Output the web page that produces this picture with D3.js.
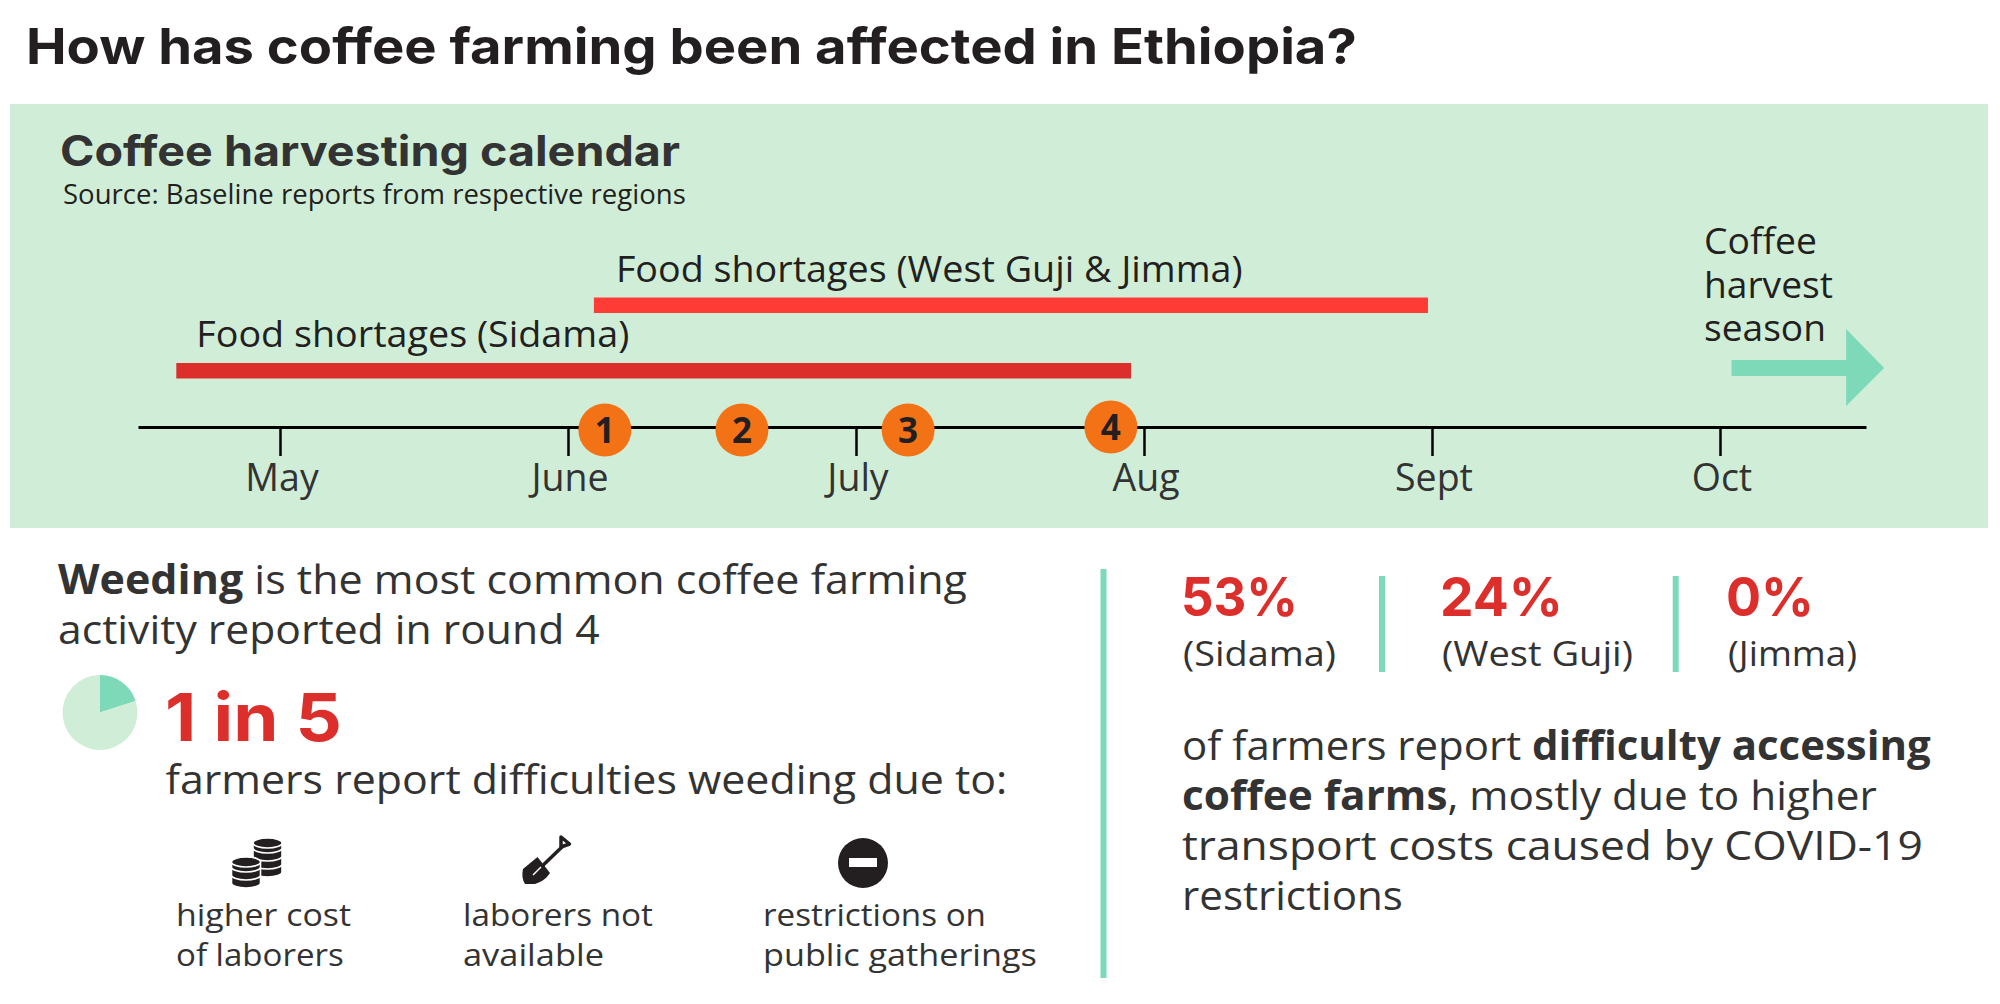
<!DOCTYPE html>
<html>
<head>
<meta charset="utf-8">
<script src="https://cdn.jsdelivr.net/npm/d3@7"></script>
<style>
  body { margin: 0; background: #fff; }
  svg { display: block; }
  text { font-family: "Open Sans", sans-serif; }
  .head { font-family: Inter, sans-serif; font-weight: 700; }
</style>
</head>
<body>
<div id="chart"></div>
<script>
// ---- data ----
var monthNames = ["May", "June", "July", "Aug", "Sept", "Oct"];
var monthValues = [0, 1, 2, 3, 4, 5];                 // month index, 0 = start of May
var axisDomain = [-0.493, 5.507];
var shortageNames = ["Food shortages (West Guji & Jimma)", "Food shortages (Sidama)"];
var shortageStart = [1.09, -0.36];
var shortageEnd = [3.986, 2.955];
var roundLabels = ["1", "2", "3", "4"];
var roundDates = [1.128, 1.604, 2.181, 2.885];
var harvestLabel = ["Coffee", "harvest", "season"];
var harvestStart = 5.04, harvestEnd = 5.57;
var pieValues = [1, 4];                               // 1 in 5
var regions = ["(Sidama)", "(West Guji)", "(Jimma)"];
var accessPercent = [53, 24, 0];
var reasons = [["higher cost", "of laborers"], ["laborers not", "available"], ["restrictions on", "public gatherings"]];

// ---- colours ----
var green = "#d0eed7", teal = "#7dd9b8", red = "#dc2f2c", brightRed = "#ff3b36",
    orange = "#f47216", ink = "#231f20", grey = "#333333";

var svg = d3.select("#chart").append("svg")
  .attr("width", 2000)
  .attr("height", 1004);

// text stretched to the width it has in the reference, parts = [[string, bold], ...]
function label(parts, x, y, size, width, color, cls) {
  if (typeof parts === "string") parts = [[parts, false]];
  var t = svg.append("text")
    .attr("class", cls || null)
    .attr("font-size", size)
    .attr("fill", color || grey);
  parts.forEach(function(p) {
    t.append("tspan").attr("font-weight", p[1] ? 700 : null).text(p[0]);
  });
  var sx = width ? width / t.node().getComputedTextLength() : 1;
  t.attr("transform", `translate(${x},${y}) scale(${sx},1)`);
  return t;
}

label("How has coffee farming been affected in Ethiopia?", 26, 64, 50, 1331, ink, "head");

// ---- calendar panel ----
svg.append("rect")
  .attr("x", 10).attr("y", 104)
  .attr("width", 1978).attr("height", 424)
  .attr("fill", green);

label("Coffee harvesting calendar", 60, 166, 42, 620, grey, "head");
label("Source: Baseline reports from respective regions", 63, 204, 27, 623, ink);

var x = d3.scaleLinear().domain(axisDomain).range([138, 1866]);
var barY = d3.scalePoint().domain(shortageNames).range([297.5, 363]);
var barHeight = 15.5;
var barColor = d3.scaleOrdinal().domain(shortageNames).range([brightRed, red]);
var labelWidth = d3.scaleOrdinal().domain(shortageNames).range([627, 433]);
var labelOffset = d3.scaleOrdinal().domain(shortageNames).range([22, 20]);

shortageNames.forEach(function(name, i) {
  svg.append("rect")
    .attr("x", x(shortageStart[i]))
    .attr("y", barY(name))
    .attr("width", x(shortageEnd[i]) - x(shortageStart[i]))
    .attr("height", barHeight)
    .attr("fill", barColor(name));
  label(name, x(shortageStart[i]) + labelOffset(name), barY(name) - 16, 36, labelWidth(name), ink);
});

// timeline axis
var axis = d3.axisBottom(x)
  .tickValues(monthValues)
  .tickSizeInner(29)
  .tickSizeOuter(0)
  .tickPadding(8)
  .tickFormat(function(d) { return monthNames[d]; });

var axisG = svg.append("g")
  .attr("transform", "translate(0,427)")
  .call(axis);
axisG.select(".domain").attr("stroke", "#000").attr("stroke-width", 3);
axisG.selectAll(".tick line").attr("stroke", "#000").attr("stroke-width", 2.5);
axisG.selectAll(".tick text")
  .attr("font-size", 37.5)
  .attr("fill", grey)
  .attr("dx", 1.5)
  .attr("y", 0)
  .attr("dy", 64);

// survey round markers
var roundY = d3.scaleOrdinal().domain(roundLabels).range([430, 430, 430, 427]);
var rounds = svg.selectAll("g.round")
  .data(roundLabels)
  .enter()
  .append("g")
  .attr("class", "round")
  .attr("transform", function(d, i) { return `translate(${x(roundDates[i])},${roundY(d)})`; });
rounds.append("circle").attr("r", 26.5).attr("fill", orange);
rounds.append("text")
  .attr("text-anchor", "middle")
  .attr("y", 13)
  .attr("font-size", 35)
  .attr("font-weight", 700)
  .attr("fill", ink)
  .text(function(d) { return d; });

// harvest season arrow
var arrowHead = x(harvestEnd) - 38;
svg.append("path")
  .attr("d", `M${x(harvestStart)},360 H${arrowHead} V329 L${x(harvestEnd)},368 L${arrowHead},406 V376 H${x(harvestStart)} Z`)
  .attr("fill", teal);
var harvestWidth = [113, 129, 122];
harvestLabel.forEach(function(s, i) {
  label(s, 1704, 254 + i * 43.6, 36, harvestWidth[i], ink);
});

// ---- weeding, left column ----
label([["Weeding", true], [" is the most common coffee farming", false]], 58, 594, 41, 909);
label("activity reported in round 4", 58, 644, 41, 542);

var arc = d3.arc().innerRadius(0).outerRadius(37.5);
var pie = d3.pie().sort(null);
svg.append("g")
  .attr("transform", "translate(100,712.5)")
  .selectAll("path")
  .data(pie(pieValues))
  .enter()
  .append("path")
  .attr("d", arc)
  .attr("fill", function(d, i) { return i === 0 ? teal : green; });

label("1 in 5", 165, 741, 66, 177, red, "head");
label("farmers report difficulties weeding due to:", 165.5, 794, 41, 842);

var reasonX = d3.scaleOrdinal().domain([0, 1, 2]).range([176, 463, 763]);
var reasonWidth = [[175, 168], [190, 141], [223, 274]];
reasons.forEach(function(lines, i) {
  lines.forEach(function(s, j) {
    label(s, reasonX(i), 926 + j * 40, 31, reasonWidth[i][j]);
  });
});

// coins icon
var coins = svg.append("g").attr("fill", ink).attr("stroke", "#fff").attr("stroke-width", 1.6);
function coinStack(cx, top, n) {
  for (var i = n - 1; i >= 0; i--) {
    var y = top + i * 8;
    coins.append("path")
      .attr("d", `M${cx - 14.5},${y + 5} a14.5,5 0 0 1 29,0 v5 a14.5,5 0 0 1 -29,0 Z`);
  }
  coins.append("ellipse").attr("cx", cx).attr("cy", top + 5).attr("rx", 14.5).attr("ry", 5);
}
coinStack(267.5, 838, 4);
coinStack(246, 857, 3);

// shovel icon
svg.append("path")
  .attr("d", "M537.5,857 L550,873 Q545,881 535,884 L525,884 Q521,878 523,869 Z")
  .attr("fill", ink);
svg.append("line")
  .attr("x1", 536).attr("y1", 872).attr("x2", 563).attr("y2", 846)
  .attr("stroke", ink).attr("stroke-width", 3.5);
svg.append("line")
  .attr("x1", 533).attr("y1", 875).attr("x2", 541).attr("y2", 867)
  .attr("stroke", "#fff").attr("stroke-width", 1.4);
svg.append("path")
  .attr("d", "M561,837 L569.5,844 L561,847 Z")
  .attr("fill", "#fff").attr("stroke", ink).attr("stroke-width", 3.5).attr("stroke-linejoin", "round");

// no entry icon
svg.append("circle").attr("cx", 863).attr("cy", 863).attr("r", 25).attr("fill", ink);
svg.append("rect").attr("x", 849).attr("y", 858).attr("width", 28).attr("height", 9).attr("fill", "#fff");

// ---- access to farms, right column ----
svg.append("rect").attr("x", 1100.5).attr("y", 569).attr("width", 6).attr("height", 409).attr("fill", teal);
[1379, 1672.7].forEach(function(sx) {
  svg.append("rect").attr("x", sx).attr("y", 576).attr("width", 6).attr("height", 96).attr("fill", teal);
});

var pctX = d3.scaleOrdinal().domain(regions).range([1181, 1440, 1726]);
var pctWidth = d3.scaleOrdinal().domain(regions).range([117, 123, 88]);
var regionWidth = d3.scaleOrdinal().domain(regions).range([153, 191, 129]);
regions.forEach(function(r, i) {
  label(accessPercent[i] + "%", pctX(r), 616, 54, pctWidth(r), red, "head");
  label(r, pctX(r) + 2, 666, 34, regionWidth(r));
});

label([["of farmers report ", false], ["difficulty accessing", true]], 1182, 760, 41, 749);
label([["coffee farms", true], [", mostly due to higher", false]], 1182, 810, 41, 695);
label("transport costs caused by COVID-19", 1182, 860, 41, 741);
label("restrictions", 1182, 910, 41, 221);
</script>
</body>
</html>
